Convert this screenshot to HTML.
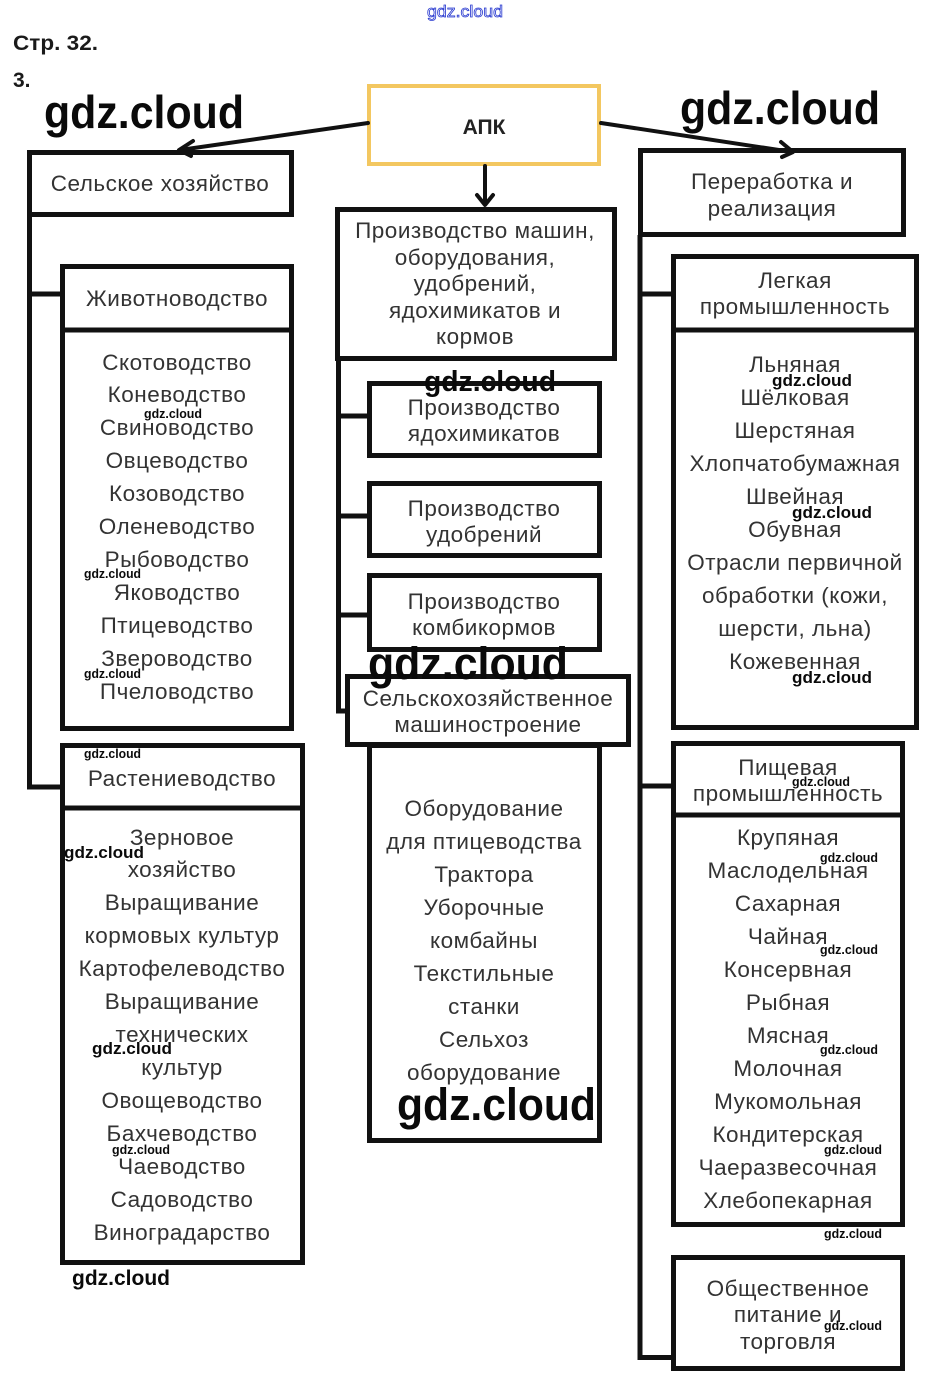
<!DOCTYPE html>
<html>
<head>
<meta charset="utf-8">
<style>
html,body{margin:0;padding:0;background:#fff;}
body{width:931px;height:1394px;overflow:hidden;}
svg{display:block;}
.t{font-family:"Liberation Sans",Arial,sans-serif;font-size:22.5px;letter-spacing:0.5px;fill:#333;text-anchor:middle;}
.w{font-family:"Liberation Sans",Arial,sans-serif;font-weight:bold;fill:#0a0a0a;}
.b{fill:none;stroke:#111;stroke-width:5;}
.l{stroke:#111;stroke-width:5;fill:none;}
.a{stroke:#111;stroke-width:4;fill:none;stroke-linecap:round;stroke-linejoin:round;}
</style>
</head>
<body>
<svg width="931" height="1394" viewBox="0 0 931 1394" xmlns="http://www.w3.org/2000/svg">
<rect x="0" y="0" width="931" height="1394" fill="#fff"/>

<!-- header texts -->
<text x="465" y="17" text-anchor="middle" font-family="Liberation Sans, Arial, sans-serif" font-size="17" fill="#fff" stroke="#2a3bd0" stroke-width="0.8" textLength="76" lengthAdjust="spacingAndGlyphs">gdz.cloud</text>
<text x="13" y="50" font-family="Liberation Sans, Arial, sans-serif" font-weight="bold" font-size="21" fill="#1a1a1a" textLength="85" lengthAdjust="spacingAndGlyphs">Стр. 32.</text>
<text x="13" y="87" font-family="Liberation Sans, Arial, sans-serif" font-weight="bold" font-size="21" fill="#1a1a1a">3.</text>

<!-- APK -->
<rect x="369" y="86" width="230" height="78" fill="#fff" stroke="#f3c760" stroke-width="4"/>
<text x="484" y="134" text-anchor="middle" font-family="Liberation Sans, Arial, sans-serif" font-weight="bold" font-size="21" fill="#222">АПК</text>

<!-- arrows -->
<line class="a" x1="368" y1="123" x2="180" y2="150"/>
<polyline class="a" points="193,141 179,150 191,156"/>
<line class="a" x1="601" y1="123" x2="792" y2="152"/>
<polyline class="a" points="781,142 793,152 782,157"/>
<line class="a" x1="485" y1="166" x2="485" y2="204"/>
<polyline class="a" points="477,195 485,205 493,195"/>

<!-- left tree -->
<line class="l" x1="29.5" y1="215" x2="29.5" y2="789"/>
<line class="l" x1="27" y1="294" x2="62" y2="294"/>
<line class="l" x1="27" y1="787" x2="62" y2="787"/>

<!-- middle tree -->
<line class="l" x1="338.5" y1="359" x2="338.5" y2="713"/>
<line class="l" x1="336" y1="416" x2="369" y2="416"/>
<line class="l" x1="336" y1="516" x2="369" y2="516"/>
<line class="l" x1="336" y1="615" x2="369" y2="615"/>
<line class="l" x1="336" y1="711" x2="347" y2="711"/>

<!-- right tree -->
<line class="l" x1="640" y1="235" x2="640" y2="1360"/>
<line class="l" x1="638" y1="294" x2="673" y2="294"/>
<line class="l" x1="638" y1="786" x2="673" y2="786"/>
<line class="l" x1="638" y1="1357.5" x2="673" y2="1357.5"/>

<!-- boxes -->
<rect class="b" x="29.5" y="152.5" width="262" height="62"/>
<rect class="b" x="337.5" y="209.5" width="277" height="149"/>
<rect class="b" x="640.5" y="150.5" width="263" height="84"/>

<rect class="b" x="62.5" y="266.5" width="229" height="462"/>
<line class="l" x1="60" y1="330" x2="294" y2="330"/>

<rect class="b" x="62.5" y="745.5" width="240" height="517"/>
<line class="l" x1="60" y1="808" x2="305" y2="808"/>

<rect class="b" x="369.5" y="383.5" width="230" height="72"/>
<rect class="b" x="369.5" y="483.5" width="230" height="72"/>
<rect class="b" x="369.5" y="575.5" width="230" height="74"/>
<rect class="b" x="369.5" y="745.5" width="230" height="395"/>
<rect class="b" x="347.5" y="676.5" width="281" height="68" fill="#fff"/>

<rect class="b" x="673.5" y="256.5" width="243" height="471"/>
<line class="l" x1="671" y1="330" x2="919" y2="330"/>

<rect class="b" x="673.5" y="743.5" width="229" height="481"/>
<line class="l" x1="671" y1="815" x2="905" y2="815"/>

<rect class="b" x="673.5" y="1257.5" width="229" height="111"/>

<!-- box texts -->
<text class="t" x="160" y="191">Сельское хозяйство</text>

<text class="t" x="475" y="238">Производство машин,</text>
<text class="t" x="475" y="265">оборудования,</text>
<text class="t" x="475" y="291">удобрений,</text>
<text class="t" x="475" y="318">ядохимикатов и</text>
<text class="t" x="475" y="344">кормов</text>

<text class="t" x="772" y="189">Переработка и</text>
<text class="t" x="772" y="216">реализация</text>

<text class="t" x="177" y="306">Животноводство</text>
<text class="t" x="177" y="370">Скотоводство</text>
<text class="t" x="177" y="402">Коневодство</text>
<text class="t" x="177" y="435">Свиноводство</text>
<text class="t" x="177" y="468">Овцеводство</text>
<text class="t" x="177" y="501">Козоводство</text>
<text class="t" x="177" y="534">Оленеводство</text>
<text class="t" x="177" y="567">Рыбоводство</text>
<text class="t" x="177" y="600">Яководство</text>
<text class="t" x="177" y="633">Птицеводство</text>
<text class="t" x="177" y="666">Звероводство</text>
<text class="t" x="177" y="699">Пчеловодство</text>

<text class="t" x="182" y="786">Растениеводство</text>
<text class="t" x="182" y="845">Зерновое</text>
<text class="t" x="182" y="877">хозяйство</text>
<text class="t" x="182" y="910">Выращивание</text>
<text class="t" x="182" y="943">кормовых культур</text>
<text class="t" x="182" y="976">Картофелеводство</text>
<text class="t" x="182" y="1009">Выращивание</text>
<text class="t" x="182" y="1042">технических</text>
<text class="t" x="182" y="1075">культур</text>
<text class="t" x="182" y="1108">Овощеводство</text>
<text class="t" x="182" y="1141">Бахчеводство</text>
<text class="t" x="182" y="1174">Чаеводство</text>
<text class="t" x="182" y="1207">Садоводство</text>
<text class="t" x="182" y="1240">Виноградарство</text>

<text class="t" x="484" y="415">Производство</text>
<text class="t" x="484" y="441">ядохимикатов</text>
<text class="t" x="484" y="516">Производство</text>
<text class="t" x="484" y="542">удобрений</text>
<text class="t" x="484" y="609">Производство</text>
<text class="t" x="484" y="635">комбикормов</text>
<text class="t" x="488" y="706">Сельскохозяйственное</text>
<text class="t" x="488" y="732">машиностроение</text>

<text class="t" x="484" y="816">Оборудование</text>
<text class="t" x="484" y="849">для птицеводства</text>
<text class="t" x="484" y="882">Трактора</text>
<text class="t" x="484" y="915">Уборочные</text>
<text class="t" x="484" y="948">комбайны</text>
<text class="t" x="484" y="981">Текстильные</text>
<text class="t" x="484" y="1014">станки</text>
<text class="t" x="484" y="1047">Сельхоз</text>
<text class="t" x="484" y="1080">оборудование</text>

<text class="t" x="795" y="288">Легкая</text>
<text class="t" x="795" y="314">промышленность</text>
<text class="t" x="795" y="372">Льняная</text>
<text class="t" x="795" y="405">Шёлковая</text>
<text class="t" x="795" y="438">Шерстяная</text>
<text class="t" x="795" y="471">Хлопчатобумажная</text>
<text class="t" x="795" y="504">Швейная</text>
<text class="t" x="795" y="537">Обувная</text>
<text class="t" x="795" y="570">Отрасли первичной</text>
<text class="t" x="795" y="603">обработки (кожи,</text>
<text class="t" x="795" y="636">шерсти, льна)</text>
<text class="t" x="795" y="669">Кожевенная</text>

<text class="t" x="788" y="775">Пищевая</text>
<text class="t" x="788" y="801">промышленность</text>
<text class="t" x="788" y="845">Крупяная</text>
<text class="t" x="788" y="878">Маслодельная</text>
<text class="t" x="788" y="911">Сахарная</text>
<text class="t" x="788" y="944">Чайная</text>
<text class="t" x="788" y="977">Консервная</text>
<text class="t" x="788" y="1010">Рыбная</text>
<text class="t" x="788" y="1043">Мясная</text>
<text class="t" x="788" y="1076">Молочная</text>
<text class="t" x="788" y="1109">Мукомольная</text>
<text class="t" x="788" y="1142">Кондитерская</text>
<text class="t" x="788" y="1175">Чаеразвесочная</text>
<text class="t" x="788" y="1208">Хлебопекарная</text>

<text class="t" x="788" y="1296">Общественное</text>
<text class="t" x="788" y="1322">питание и</text>
<text class="t" x="788" y="1349">торговля</text>

<!-- watermarks -->
<text class="w" x="44" y="128" font-size="46" textLength="200" lengthAdjust="spacingAndGlyphs">gdz.cloud</text>
<text class="w" x="680" y="124" font-size="46" textLength="200" lengthAdjust="spacingAndGlyphs">gdz.cloud</text>
<text class="w" x="424" y="391" font-size="29" textLength="132" lengthAdjust="spacingAndGlyphs">gdz.cloud</text>
<text class="w" x="368" y="679" font-size="45" textLength="200" lengthAdjust="spacingAndGlyphs">gdz.cloud</text>
<text class="w" x="397" y="1120" font-size="45" textLength="199" lengthAdjust="spacingAndGlyphs">gdz.cloud</text>

<text class="w" x="144" y="418" font-size="13" textLength="58" lengthAdjust="spacingAndGlyphs">gdz.cloud</text>
<text class="w" x="84" y="578" font-size="13" textLength="57" lengthAdjust="spacingAndGlyphs">gdz.cloud</text>
<text class="w" x="84" y="678" font-size="13" textLength="57" lengthAdjust="spacingAndGlyphs">gdz.cloud</text>
<text class="w" x="84" y="758" font-size="13" textLength="57" lengthAdjust="spacingAndGlyphs">gdz.cloud</text>
<text class="w" x="64" y="858" font-size="17" textLength="80" lengthAdjust="spacingAndGlyphs">gdz.cloud</text>
<text class="w" x="92" y="1054" font-size="17" textLength="80" lengthAdjust="spacingAndGlyphs">gdz.cloud</text>
<text class="w" x="112" y="1154" font-size="13" textLength="58" lengthAdjust="spacingAndGlyphs">gdz.cloud</text>
<text class="w" x="72" y="1285" font-size="21" textLength="98" lengthAdjust="spacingAndGlyphs">gdz.cloud</text>

<text class="w" x="772" y="386" font-size="17" textLength="80" lengthAdjust="spacingAndGlyphs">gdz.cloud</text>
<text class="w" x="792" y="518" font-size="17" textLength="80" lengthAdjust="spacingAndGlyphs">gdz.cloud</text>
<text class="w" x="792" y="683" font-size="17" textLength="80" lengthAdjust="spacingAndGlyphs">gdz.cloud</text>
<text class="w" x="792" y="786" font-size="13" textLength="58" lengthAdjust="spacingAndGlyphs">gdz.cloud</text>
<text class="w" x="820" y="862" font-size="13" textLength="58" lengthAdjust="spacingAndGlyphs">gdz.cloud</text>
<text class="w" x="820" y="954" font-size="13" textLength="58" lengthAdjust="spacingAndGlyphs">gdz.cloud</text>
<text class="w" x="820" y="1054" font-size="13" textLength="58" lengthAdjust="spacingAndGlyphs">gdz.cloud</text>
<text class="w" x="824" y="1154" font-size="13" textLength="58" lengthAdjust="spacingAndGlyphs">gdz.cloud</text>
<text class="w" x="824" y="1238" font-size="13" textLength="58" lengthAdjust="spacingAndGlyphs">gdz.cloud</text>
<text class="w" x="824" y="1330" font-size="13" textLength="58" lengthAdjust="spacingAndGlyphs">gdz.cloud</text>
</svg>
</body>
</html>
